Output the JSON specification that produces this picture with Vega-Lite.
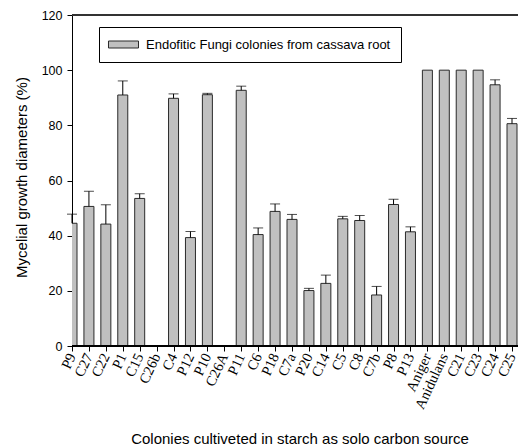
{
  "$schema": "https://vega.github.io/schema/vega-lite/v6.json",
  "autosize": "none",
  "width": 446,
  "height": 331,
  "padding": {"left": 72, "top": 15, "right": 6, "bottom": 100},
  "background": "white",
  "config": {
    "font": "Liberation Sans",
    "view": {"stroke": null},
    "axis": {"grid": false, "domainColor": "black", "tickColor": "black", "labelColor": "black", "titleColor": "black", "titleFontWeight": "normal"}
  },
  "data": {
    "values": [
      {"colony": "P9", "value": 44.5, "err": 47.8},
      {"colony": "C27", "value": 50.6, "err": 56.1},
      {"colony": "C22", "value": 44.2, "err": 51.2},
      {"colony": "P1", "value": 91.0, "err": 96.1},
      {"colony": "C15", "value": 53.5, "err": 55.2},
      {"colony": "C26b", "value": 0, "err": null},
      {"colony": "C4", "value": 89.8, "err": 91.4},
      {"colony": "P12", "value": 39.3, "err": 41.5},
      {"colony": "P10", "value": 91.1, "err": 91.6},
      {"colony": "C26A", "value": 0, "err": null},
      {"colony": "P11", "value": 92.7, "err": 94.2},
      {"colony": "C6", "value": 40.4, "err": 42.8},
      {"colony": "P18", "value": 48.8, "err": 51.5},
      {"colony": "C7a", "value": 45.9, "err": 47.7},
      {"colony": "P20", "value": 20.1, "err": 20.9},
      {"colony": "C14", "value": 22.7, "err": 25.7},
      {"colony": "C5", "value": 46.1, "err": 47.0},
      {"colony": "C8", "value": 45.5, "err": 47.3},
      {"colony": "C7b", "value": 18.5, "err": 21.6},
      {"colony": "P8", "value": 51.3, "err": 53.2},
      {"colony": "P13", "value": 41.4, "err": 43.2},
      {"colony": "Aniger", "value": 100, "err": null},
      {"colony": "Anidulans", "value": 100, "err": null},
      {"colony": "C21", "value": 100, "err": null},
      {"colony": "C23", "value": 100, "err": null},
      {"colony": "C24", "value": 94.7, "err": 96.5},
      {"colony": "C25", "value": 80.6, "err": 82.5}
    ]
  },
  "layer": [
    {
      "mark": {"type": "bar", "width": 10, "stroke": "#2a2a2a", "strokeWidth": 1, "clip": true},
      "encoding": {
        "x": {
          "field": "colony",
          "type": "nominal",
          "sort": null,
          "scale": {"type": "point", "padding": 0, "range": [0, 440]},
          "axis": {
            "domain": false,
            "tickSize": 5,
            "labelAngle": -65,
            "labelFont": "Liberation Serif",
            "labelFontSize": 14.5,
            "labelPadding": 3,
            "labelOverlap": false,
            "title": "Colonies cultiveted in starch as solo carbon source",
            "titleFont": "Liberation Sans",
            "titleFontSize": 15,
            "titleX": 227.5,
            "titleY": 97,
            "titleAlign": "center",
            "titleBaseline": "alphabetic"
          }
        },
        "y": {
          "field": "value",
          "type": "quantitative",
          "scale": {"domain": [0, 120], "nice": false},
          "axis": {
            "values": [0, 20, 40, 60, 80, 100, 120],
            "tickSize": 5,
            "labelPadding": 5,
            "labelFontSize": 12.5,
            "title": "Mycelial growth diameters (%)",
            "titleFontSize": 15,
            "titleX": -51,
            "titleY": 162,
            "titleAngle": -90,
            "titleAlign": "center",
            "titleBaseline": "middle"
          }
        },
        "color": {
          "datum": "Endofitic Fungi colonies from cassava root",
          "type": "nominal",
          "scale": {"range": ["#c0c0c0"]},
          "legend": {
            "orient": "none",
            "legendX": 27,
            "legendY": 12,
            "title": null,
            "symbolType": "M-1.143,-0.5H3.143V0.5H-1.143Z",
            "symbolSize": 196,
            "symbolStrokeColor": "#2a2a2a",
            "symbolStrokeWidth": 1,
            "labelFont": "Liberation Sans",
            "labelFontSize": 13,
            "labelColor": "black",
            "labelOffset": 22,
            "labelLimit": 500,
            "padding": 10,
            "strokeColor": "black",
            "fillColor": "white"
          }
        }
      }
    },
    {
      "transform": [{"filter": "datum.err != null"}],
      "mark": {"type": "rule", "color": "black", "strokeWidth": 1},
      "encoding": {
        "x": {"field": "colony", "type": "nominal", "sort": null},
        "y": {"field": "value", "type": "quantitative"},
        "y2": {"field": "err"}
      }
    },
    {
      "transform": [{"filter": "datum.err != null"}],
      "mark": {"type": "tick", "color": "black", "thickness": 1, "size": 10, "orient": "horizontal"},
      "encoding": {
        "x": {"field": "colony", "type": "nominal", "sort": null},
        "y": {"field": "err", "type": "quantitative"}
      }
    },
    {
      "mark": {"type": "rule", "color": "black", "strokeWidth": 1},
      "encoding": {"y": {"datum": 0, "type": "quantitative"}}
    },
    {
      "mark": {"type": "rule", "color": "#333", "strokeWidth": 1},
      "encoding": {"y": {"datum": 120, "type": "quantitative"}}
    }
  ]
}
